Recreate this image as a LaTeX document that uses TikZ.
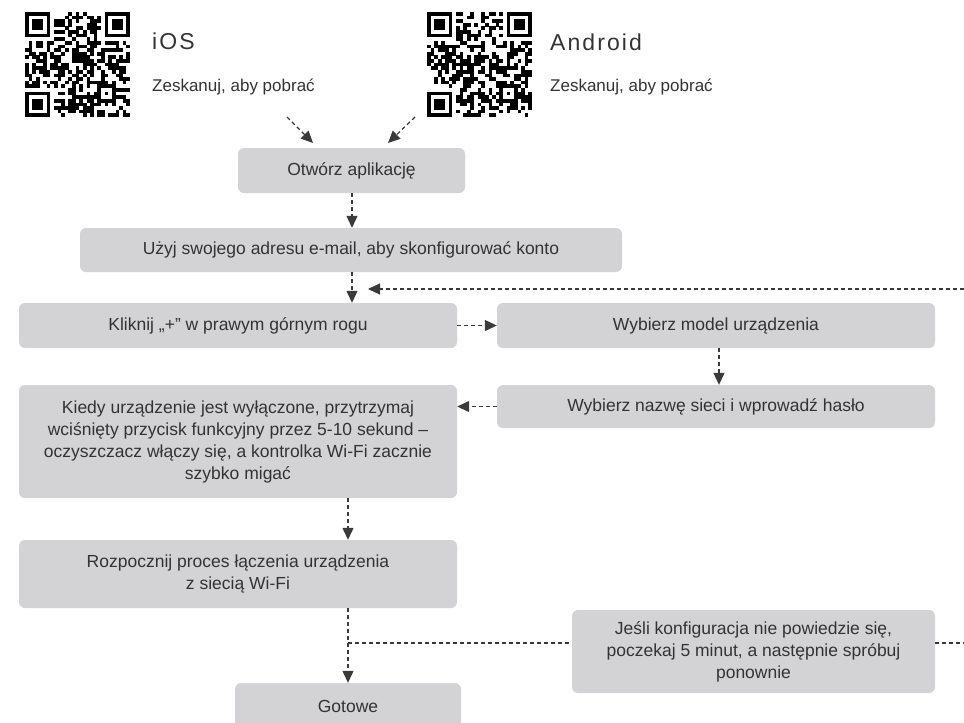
\documentclass[tikz,border=0pt]{standalone}
\usepackage{fontspec}
\setmainfont{Liberation Sans}
\newfontfamily\titlefont[LetterSpace=9]{Liberation Sans}
\usetikzlibrary{arrows.meta}
\definecolor{boxgray}{HTML}{D3D3D5}
\definecolor{txt}{HTML}{333333}
\definecolor{lineclr}{HTML}{3A3A3A}
\newcommand{\myqr}[3]{%
  \pgfmathsetseed{#3}%
  \foreach \i in {0,...,28}{\foreach \j in {0,...,28}{%
    \pgfmathparse{rnd<0.5?1:0}%
    \ifnum\pgfmathresult=1 \fill[black] ({#1+\i*3.62},{#2+\j*3.62}) rectangle ++(3.7,3.7);\fi
  }}%
  \foreach \a/\b in {0/0,21/0,0/21}{%
    \fill[white] ({#1+\a*3.62},{#2+\b*3.62}) rectangle ++(8*3.62,8*3.62);
    \fill[black] ({#1+(\a+(\a>0?1:0))*3.62},{#2+(\b+(\b>0?1:0))*3.62}) rectangle ++(7*3.62,7*3.62);
    \fill[white] ({#1+(\a+(\a>0?1:0)+1)*3.62},{#2+(\b+(\b>0?1:0)+1)*3.62}) rectangle ++(5*3.62,5*3.62);
    \fill[black] ({#1+(\a+(\a>0?1:0)+2)*3.62},{#2+(\b+(\b>0?1:0)+2)*3.62}) rectangle ++(3*3.62,3*3.62);
  }%
  \fill[black] ({#1+20*3.62},{#2+20*3.62}) rectangle ++(5*3.62,5*3.62);
  \fill[white] ({#1+21*3.62},{#2+21*3.62}) rectangle ++(3*3.62,3*3.62);
  \fill[black] ({#1+22*3.62},{#2+22*3.62}) rectangle ++(1*3.62,1*3.62);
}
\tikzset{
  box/.style={fill=boxgray, rounded corners=6pt, inner sep=0pt, align=center,
    text=txt, font=\fontsize{17.5}{22}\selectfont},
  conn/.style={draw=lineclr, line width=1.2pt, dash pattern=on 4pt off 3pt,
    -{Triangle[length=12pt,width=11pt]}},
  plain/.style={draw=lineclr, line width=1.2pt, dash pattern=on 4pt off 3pt},
  title/.style={anchor=base west, inner sep=0pt, text=txt, font=\titlefont\fontsize{23}{25}\selectfont},
  sub/.style={anchor=west, inner sep=0pt, text=txt, font=\fontsize{17}{20}\selectfont}
}
\begin{document}
\begin{tikzpicture}[x=1pt,y=-1pt]
\useasboundingbox (0,0) rectangle (964,723);
\clip (0,0) rectangle (964,723);
\fill[white] (0,0) rectangle (964,723);
% QR codes
\myqr{25}{12}{7}
\myqr{427}{12}{13}
\node[title] (ios) at (152,49) {iOS};
\node[sub] (ioss) at (152,87) {Zeskanuj, aby pobrać};
\node[title] (andr) at (550,50) {Android};
\node[sub] (andrs) at (550,87) {Zeskanuj, aby pobrać};
% boxes
\node[box, minimum width=227pt, minimum height=45pt] (open) at (351.5,170.5) {Otwórz aplikację};
\node[box, minimum width=542pt, minimum height=44pt] (email) at (351,250) {Użyj swojego adresu e-mail, aby skonfigurować konto};
\node[box, minimum width=438pt, minimum height=45pt] (click) at (238,325.5) {Kliknij „+” w prawym górnym rogu};
\node[box, minimum width=438pt, minimum height=45pt] (model) at (716,325.5) {Wybierz model urządzenia};
\node[box, minimum width=438pt, minimum height=43pt] (wifi) at (716,406.5) {Wybierz nazwę sieci i wprowadź hasło};
\node[box, minimum width=438pt, minimum height=113pt] (hold) at (238,441.5) {Kiedy urządzenie jest wyłączone, przytrzymaj\\wciśnięty przycisk funkcyjny przez 5-10 sekund –\\oczyszczacz włączy się, a kontrolka Wi-Fi zacznie\\szybko migać};
\node[box, minimum width=438pt, minimum height=68pt] (start) at (238,574) {Rozpocznij proces łączenia urządzenia\\z siecią Wi-Fi};
\node[box, minimum width=363pt, minimum height=83pt] (fail) at (753.5,651.5) {Jeśli konfiguracja nie powiedzie się,\\poczekaj 5 minut, a następnie spróbuj\\ponownie};
\node[box, minimum width=226pt, minimum height=46pt] (done) at (348,706) {Gotowe};
% connectors
\coordinate (q1) at (287,117);
\coordinate (q1e) at (313,143);
\coordinate (q2) at (415,117);
\coordinate (q2e) at (388,143);
\draw[conn] (q1) -- (q1e);
\draw[conn] (q2) -- (q2e);
\draw[conn] ([xshift=0.5pt]open.south) -- ([xshift=1pt]email.north);
\draw[conn] ([xshift=1pt]email.south) -- ([xshift=1pt]email.south |- click.north);
\coordinate (loopstart) at (964,289);
\coordinate (loopend) at (368,289);
\draw[conn] (loopstart) -- (loopend);
\draw[conn] (click.east) -- (model.west);
\draw[conn] ([xshift=3pt]model.south) -- ([xshift=3pt]wifi.north);
\draw[conn] (wifi.west) -- (wifi.west -| hold.east);
\draw[conn] ([xshift=110pt]hold.south) -- ([xshift=110pt]start.north);
\draw[conn] ([xshift=110pt]start.south) -- (done.north);
\coordinate (br) at (348,643);
\coordinate (rend) at (964,643);
\draw[plain] (br) -- (br -| fail.west);
\draw[plain] (br -| fail.east) -- (rend);
\end{tikzpicture}
\end{document}
